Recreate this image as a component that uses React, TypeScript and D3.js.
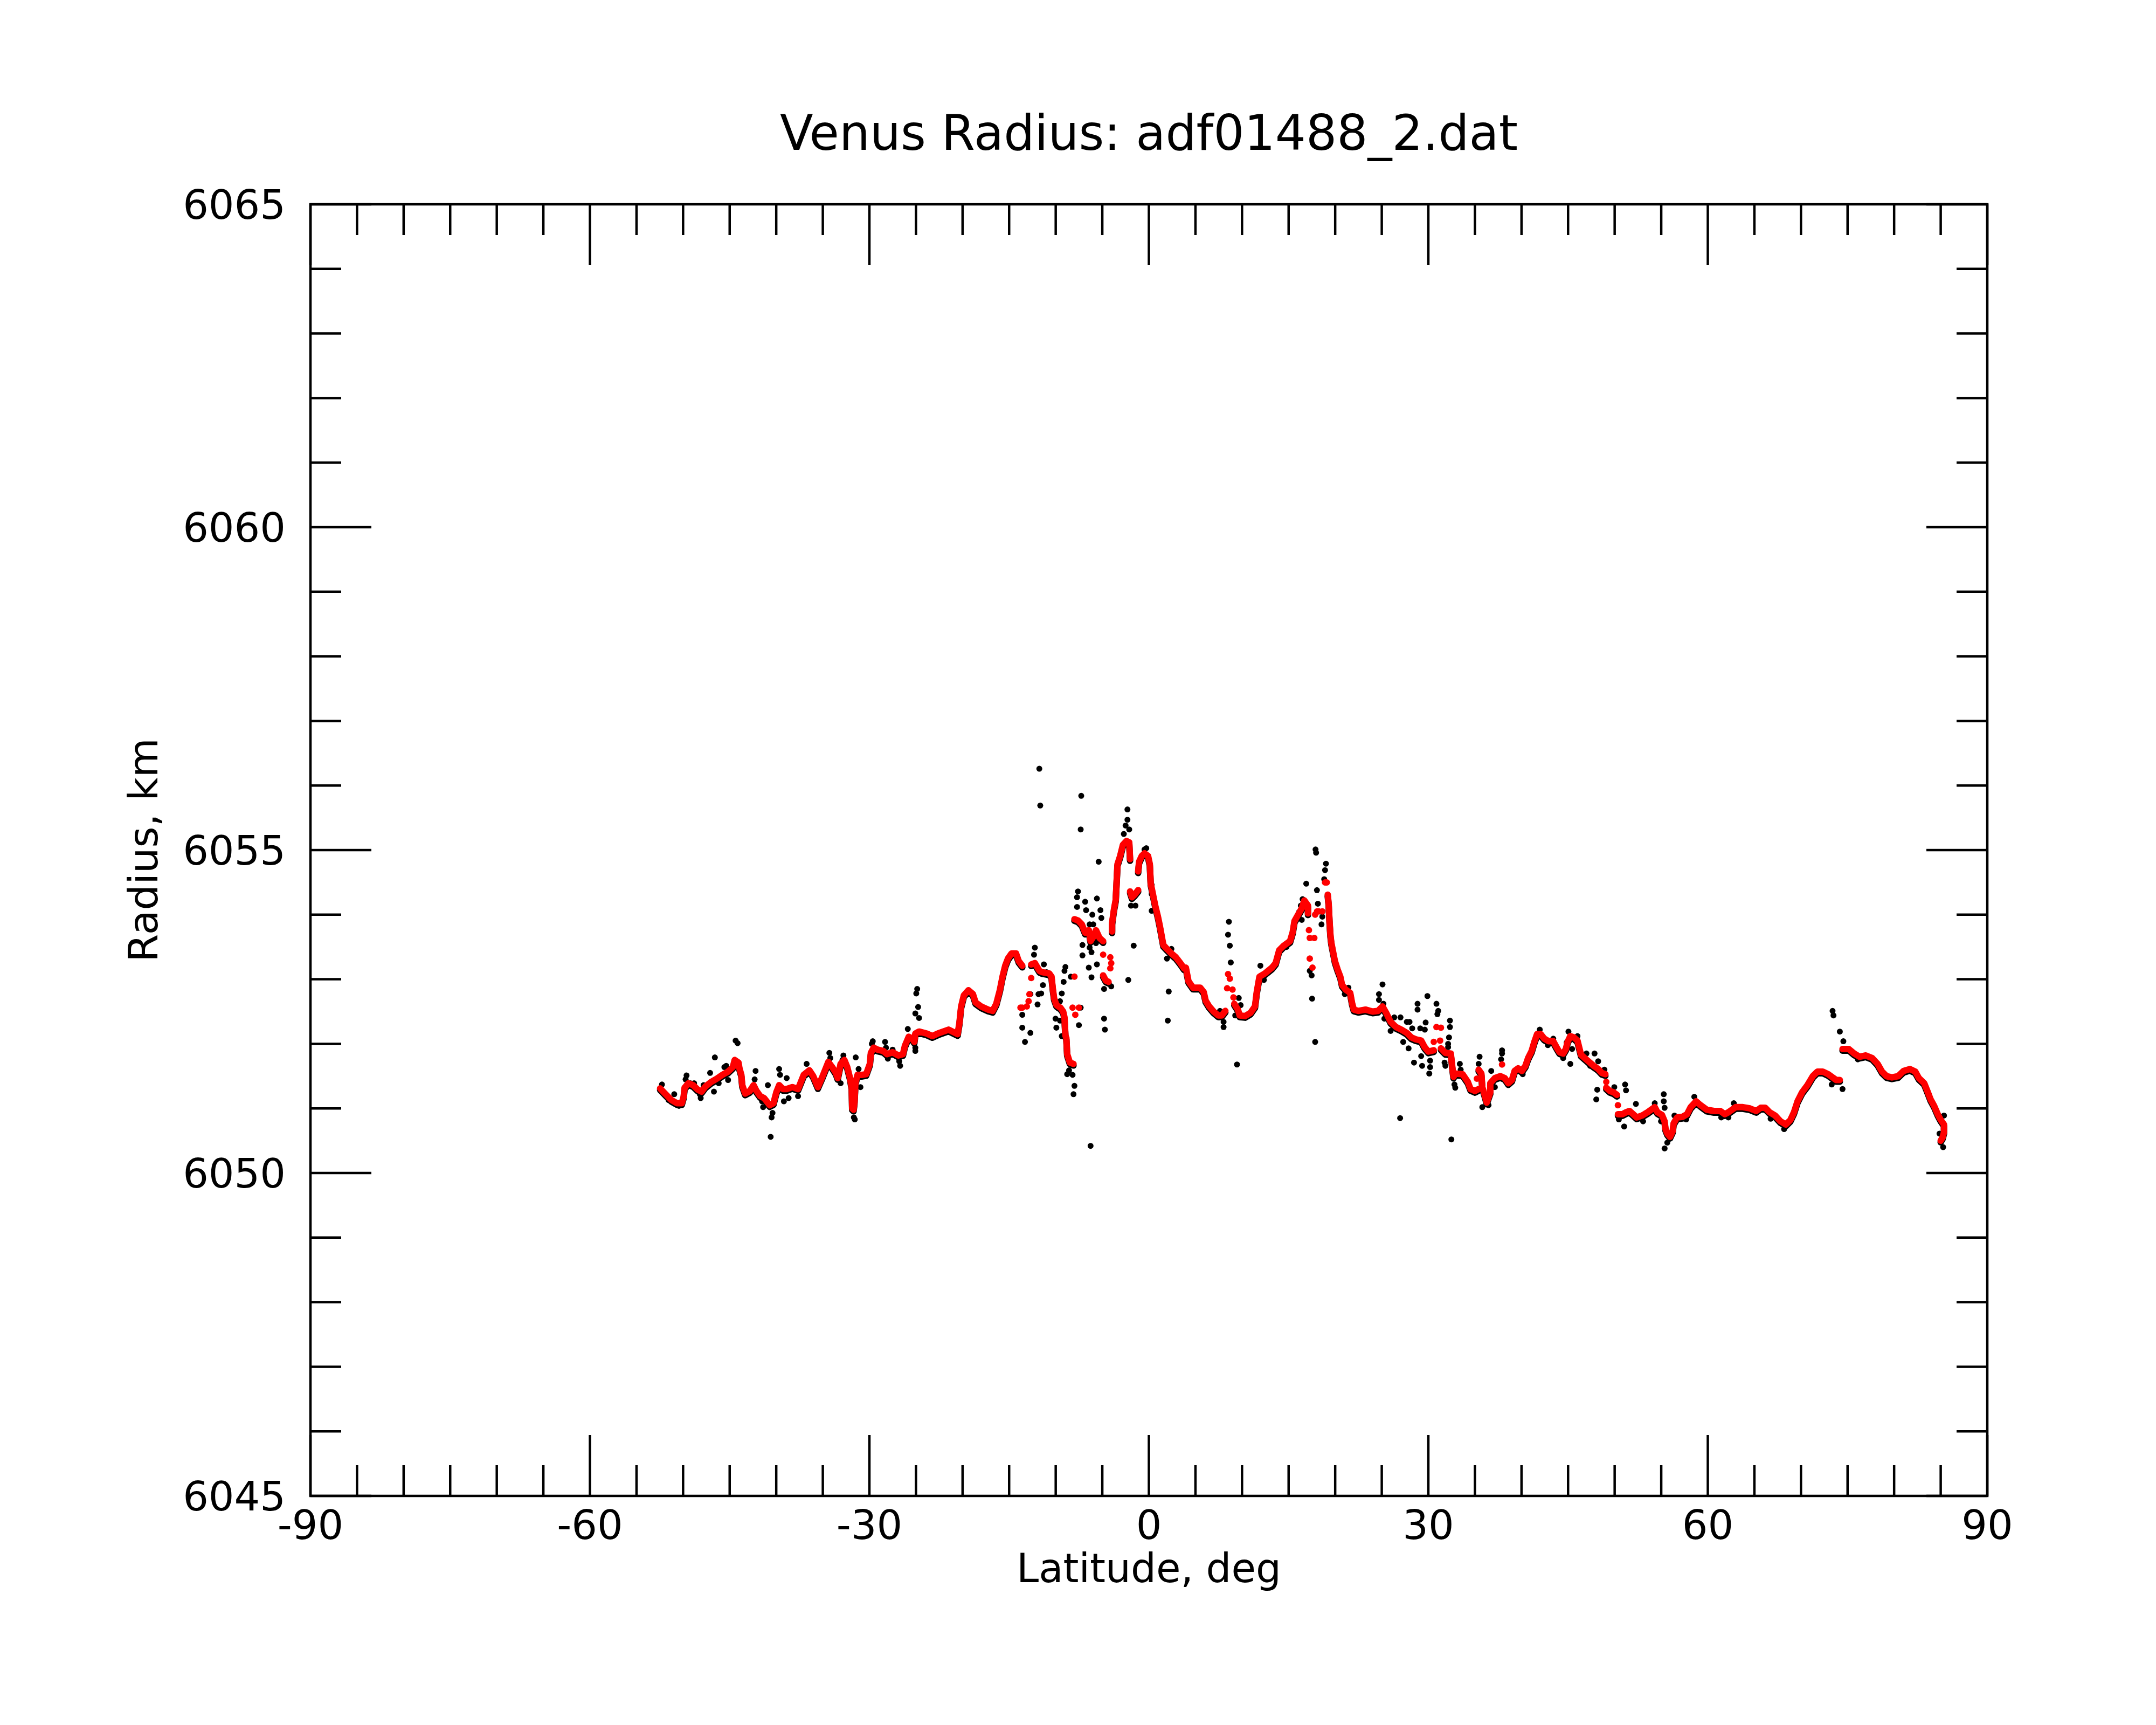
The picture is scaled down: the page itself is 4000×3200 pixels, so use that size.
import { useEffect, useRef } from 'react';
import * as d3 from 'd3';

type Pt = [number, number]; // [latitude deg, radius km]

const TITLE = 'Venus Radius: adf01488_2.dat';
const X_LABEL = 'Latitude, deg';
const Y_LABEL = 'Radius, km';
const xDomain: [number, number] = [-90, 90];
const yDomain: [number, number] = [6045, 6065];
const xMajorTicks = [-90, -60, -30, 0, 30, 60, 90];
const yMajorTicks = [6045, 6050, 6055, 6060, 6065];

// smoothed profile (red) in connected runs
const redSouth: Pt[] = [
  [-52.47, 6051.31], [-51.87, 6051.22], [-51.26, 6051.13], [-50.65, 6051.08], [-50.14, 6051.08],
  [-49.94, 6051.18], [-49.84, 6051.32], [-49.43, 6051.39], [-48.92, 6051.36], [-48.42, 6051.29],
  [-48.01, 6051.26], [-47.6, 6051.34], [-46.99, 6051.41], [-46.39, 6051.46], [-45.78, 6051.52],
  [-45.17, 6051.57], [-44.66, 6051.64], [-44.46, 6051.75], [-44.05, 6051.71], [-43.95, 6051.62],
  [-43.75, 6051.52], [-43.65, 6051.36], [-43.34, 6051.23], [-42.83, 6051.27], [-42.43, 6051.36],
  [-42.12, 6051.27], [-41.72, 6051.19], [-41.31, 6051.16], [-40.7, 6051.05], [-40.3, 6051.08],
  [-39.99, 6051.25], [-39.69, 6051.36], [-39.28, 6051.3], [-38.88, 6051.3], [-38.27, 6051.33],
  [-37.66, 6051.3], [-37.05, 6051.52], [-36.44, 6051.59], [-36.03, 6051.5], [-35.53, 6051.33],
  [-35.02, 6051.5], [-34.41, 6051.72], [-34.0, 6051.64], [-33.6, 6051.55], [-33.4, 6051.47],
  [-33.09, 6051.69], [-32.69, 6051.75], [-32.38, 6051.64], [-32.08, 6051.47], [-31.9, 6051.32],
  [-31.85, 6051.0], [-31.7, 6050.98], [-31.6, 6051.1], [-31.5, 6051.4], [-31.27, 6051.52],
  [-30.76, 6051.52], [-30.35, 6051.53], [-29.95, 6051.69], [-29.84, 6051.86], [-29.54, 6051.94],
  [-29.13, 6051.91], [-28.52, 6051.89], [-28.12, 6051.84], [-27.51, 6051.87], [-26.9, 6051.82],
  [-26.4, 6051.84], [-26.19, 6051.97], [-25.78, 6052.11], [-25.38, 6052.08], [-25.18, 6052.03],
  [-25.07, 6052.16], [-24.67, 6052.19], [-23.86, 6052.16], [-23.25, 6052.12], [-22.64, 6052.16],
  [-22.07, 6052.19], [-21.5, 6052.22], [-20.53, 6052.15], [-20.34, 6052.32], [-20.15, 6052.58],
  [-19.86, 6052.75], [-19.37, 6052.83], [-18.89, 6052.77], [-18.6, 6052.64], [-18.02, 6052.58],
  [-17.25, 6052.53], [-16.77, 6052.51], [-16.38, 6052.62], [-16.0, 6052.83], [-15.71, 6053.04],
  [-15.42, 6053.21], [-15.13, 6053.32], [-14.74, 6053.4], [-14.26, 6053.4], [-13.97, 6053.28],
  [-13.59, 6053.21],
];

const redEquator: Pt[][] = [
  [
    [-12.63, 6053.23], [-12.24, 6053.25], [-11.75, 6053.13], [-11.47, 6053.11], [-11.08, 6053.1],
    [-10.7, 6053.09], [-10.45, 6053.04], [-10.31, 6052.85], [-10.17, 6052.7], [-9.92, 6052.6],
    [-9.73, 6052.58], [-9.5, 6052.56], [-9.2, 6052.5], [-9.06, 6052.41], [-8.96, 6052.13],
    [-8.86, 6052.09], [-8.77, 6051.84], [-8.48, 6051.71], [-8.09, 6051.69],
  ],
  [
    [-7.99, 6053.93], [-7.61, 6053.91], [-7.2, 6053.85], [-6.84, 6053.72], [-6.45, 6053.76],
    [-6.26, 6053.59], [-5.87, 6053.68], [-5.68, 6053.76], [-5.3, 6053.64], [-4.91, 6053.59],
  ],
  [[-4.91, 6053.06], [-4.62, 6052.98], [-4.33, 6052.96]],
  [
    [-3.95, 6053.74], [-3.95, 6053.87], [-3.75, 6054.08], [-3.56, 6054.23], [-3.37, 6054.78],
    [-3.08, 6054.91], [-2.79, 6055.08], [-2.4, 6055.14], [-2.11, 6055.12], [-2.02, 6054.86],
  ],
  [[-2.02, 6054.36], [-1.82, 6054.27], [-1.53, 6054.31], [-1.15, 6054.38]],
  [
    [-1.15, 6054.67], [-1.05, 6054.82], [-0.76, 6054.91], [-0.47, 6054.95], [-0.09, 6054.91],
    [0.1, 6054.78], [0.2, 6054.48], [0.4, 6054.34], [0.68, 6054.14], [0.97, 6053.97],
    [1.17, 6053.83], [1.36, 6053.68], [1.55, 6053.53], [1.94, 6053.47], [2.42, 6053.4],
    [2.9, 6053.34], [3.38, 6053.25], [3.77, 6053.17], [3.97, 6053.18], [4.25, 6052.97],
    [4.74, 6052.87], [5.51, 6052.87], [5.89, 6052.8], [6.09, 6052.67], [6.47, 6052.58],
    [6.95, 6052.5], [7.44, 6052.44], [7.82, 6052.44], [8.21, 6052.51],
  ],
  [
    [9.17, 6052.62], [9.56, 6052.53], [9.75, 6052.44], [10.33, 6052.43], [10.91, 6052.48],
    [11.39, 6052.58], [11.58, 6052.8], [11.87, 6053.04], [12.45, 6053.09], [13.22, 6053.18],
    [13.61, 6053.25], [13.99, 6053.45], [14.48, 6053.52], [15.15, 6053.59], [15.44, 6053.73],
    [15.63, 6053.9], [16.02, 6054.0], [16.41, 6054.1], [16.69, 6054.22], [17.08, 6054.14],
    [17.08, 6054.02],
  ],
];

const redNorth: Pt[][] = [
  [
    [19.2, 6054.31], [19.3, 6054.16], [19.39, 6053.9], [19.49, 6053.68], [19.59, 6053.56],
    [19.78, 6053.42], [19.97, 6053.28], [20.26, 6053.15], [20.55, 6053.04], [20.74, 6052.91],
    [21.13, 6052.84], [21.61, 6052.79], [21.81, 6052.63], [22.0, 6052.53], [22.48, 6052.51],
    [23.25, 6052.53], [24.02, 6052.5], [24.6, 6052.51], [25.08, 6052.58], [25.47, 6052.48],
    [25.95, 6052.34], [26.53, 6052.26], [27.11, 6052.22], [27.69, 6052.17], [28.17, 6052.1],
    [28.65, 6052.07], [29.23, 6052.05], [29.6, 6051.95], [30.0, 6051.88], [30.58, 6051.9],
  ],
  [
    [31.35, 6051.93], [31.83, 6051.86], [32.41, 6051.85], [32.61, 6051.59], [32.7, 6051.49],
    [32.89, 6051.54], [33.67, 6051.53], [34.24, 6051.41], [34.53, 6051.3], [35.02, 6051.27],
    [35.4, 6051.3],
  ],
  [
    [35.4, 6051.6], [35.69, 6051.54], [35.79, 6051.33], [36.08, 6051.19], [36.27, 6051.09],
    [36.65, 6051.25], [36.65, 6051.39], [37.14, 6051.47], [37.72, 6051.5], [38.2, 6051.47],
    [38.58, 6051.39], [38.97, 6051.44], [39.26, 6051.58], [39.64, 6051.62], [40.03, 6051.58],
    [40.42, 6051.66], [40.71, 6051.78], [41.09, 6051.89], [41.38, 6052.03], [41.67, 6052.15],
    [42.06, 6052.15], [42.44, 6052.08], [42.92, 6052.04], [43.41, 6052.04], [43.79, 6051.94],
    [44.08, 6051.87], [44.47, 6051.85], [44.76, 6051.92], [44.95, 6052.03], [45.24, 6052.12],
    [45.62, 6052.1], [46.01, 6052.05], [46.2, 6051.94], [46.39, 6051.83], [46.78, 6051.78],
    [47.26, 6051.72], [47.74, 6051.66], [48.23, 6051.61], [48.61, 6051.55], [49.0, 6051.53],
  ],
  [[49.1, 6051.32], [49.48, 6051.27], [49.87, 6051.25], [50.25, 6051.21]],
  [
    [50.35, 6050.91], [50.83, 6050.91], [51.22, 6050.94], [51.6, 6050.96], [51.99, 6050.91],
    [52.37, 6050.86], [52.95, 6050.89], [53.53, 6050.94], [54.01, 6050.99], [54.3, 6051.02],
    [54.59, 6050.94], [55.07, 6050.9], [55.36, 6050.8], [55.46, 6050.68], [55.65, 6050.61],
    [55.94, 6050.56], [56.23, 6050.65], [56.33, 6050.77], [56.71, 6050.86], [57.29, 6050.87],
    [57.77, 6050.91], [58.16, 6051.02], [58.74, 6051.11], [59.22, 6051.05], [59.89, 6050.98],
    [60.66, 6050.96], [61.34, 6050.96], [61.82, 6050.91], [62.21, 6050.94], [62.98, 6051.02],
    [63.75, 6051.02], [64.52, 6051.0], [65.2, 6050.96], [65.68, 6051.01], [66.16, 6051.01],
    [66.64, 6050.94], [67.22, 6050.89], [67.8, 6050.8], [68.38, 6050.75], [68.86, 6050.82],
    [69.25, 6050.94], [69.63, 6051.11], [70.12, 6051.25], [70.69, 6051.36], [71.27, 6051.5],
    [71.76, 6051.57], [72.33, 6051.57], [72.91, 6051.53], [73.39, 6051.48], [73.78, 6051.44],
    [74.17, 6051.44],
  ],
  [
    [74.46, 6051.92], [75.13, 6051.92], [75.71, 6051.85], [76.29, 6051.8], [76.96, 6051.82],
    [77.64, 6051.78], [78.22, 6051.69], [78.7, 6051.57], [79.18, 6051.5], [79.76, 6051.48],
    [80.43, 6051.5], [81.01, 6051.58], [81.69, 6051.61], [82.27, 6051.57], [82.65, 6051.47],
    [83.23, 6051.39], [83.62, 6051.25], [83.91, 6051.14], [84.29, 6051.04], [84.68, 6050.91],
    [84.97, 6050.83], [85.35, 6050.75], [85.35, 6050.63], [85.2, 6050.55], [85.0, 6050.5],
  ],
];

// red points standing apart from the runs
const redLoose: Pt[] = [
  [-12.63, 6053.02], [-12.82, 6052.77], [-12.91, 6052.66], [-13.1, 6052.58], [-13.59, 6052.56],
  [-13.78, 6052.56], [-7.99, 6053.04], [-8.19, 6052.56], [-7.51, 6052.56], [-7.9, 6052.45],
  [-4.91, 6053.38], [-4.14, 6053.34], [-4.04, 6053.25], [-4.14, 6053.17], [8.5, 6053.08],
  [8.69, 6053.01], [8.4, 6052.86], [8.98, 6052.84], [9.08, 6052.72], [17.18, 6053.76],
  [17.27, 6053.64], [17.76, 6053.64], [17.27, 6053.32], [17.56, 6053.18], [17.85, 6054.0],
  [18.05, 6054.05], [18.24, 6054.05], [18.62, 6054.05], [18.91, 6054.5], [19.1, 6054.5],
  [30.58, 6052.03], [30.87, 6052.26], [31.35, 6052.25], [31.26, 6052.05], [35.21, 6051.46],
  [37.91, 6051.68], [49.1, 6051.41], [50.35, 6051.05],
];

// raw measurements (black) visible around the profile
const rawPoints: Pt[] = [
  [-52.27, 6051.37], [-51.56, 6051.13], [-50.95, 6051.22], [-50.44, 6051.04], [-49.73, 6051.45],
  [-49.63, 6051.51], [-49.23, 6051.39], [-48.82, 6051.39], [-48.21, 6051.22], [-48.11, 6051.16],
  [-47.8, 6051.36], [-47.1, 6051.55], [-46.69, 6051.26], [-46.59, 6051.79], [-46.18, 6051.39],
  [-45.57, 6051.64], [-45.37, 6051.66], [-45.17, 6051.44], [-44.36, 6052.05], [-44.15, 6052.01],
  [-42.32, 6051.45], [-42.22, 6051.58], [-41.52, 6051.11], [-41.41, 6051.02], [-40.9, 6051.36],
  [-40.5, 6050.86], [-40.4, 6050.93], [-40.6, 6050.56], [-39.69, 6051.61], [-39.59, 6051.52],
  [-39.18, 6051.11], [-38.88, 6051.47], [-38.67, 6051.16], [-37.66, 6051.19], [-36.74, 6051.69],
  [-36.44, 6051.58], [-35.53, 6051.3], [-34.3, 6051.86], [-34.2, 6051.78], [-33.09, 6051.39],
  [-32.79, 6051.82], [-32.89, 6051.75], [-31.47, 6051.79], [-31.16, 6051.61], [-30.96, 6051.33],
  [-31.67, 6050.86], [-31.57, 6050.83], [-29.64, 6052.04], [-29.74, 6052.0], [-28.32, 6052.03],
  [-28.22, 6051.94], [-27.51, 6051.91], [-28.02, 6051.77], [-26.7, 6051.66], [-26.8, 6051.73],
  [-25.88, 6052.23], [-25.07, 6051.94], [-25.07, 6051.89], [-24.87, 6052.85], [-24.97, 6052.78],
  [-24.77, 6052.57], [-25.07, 6052.47], [-24.67, 6052.4],
  [-11.76, 6056.26], [-11.66, 6055.69], [-7.26, 6055.84], [-7.32, 6055.32], [-2.3, 6055.63],
  [-2.3, 6055.47], [-2.5, 6055.38], [-2.11, 6055.32], [-2.69, 6055.25], [-5.39, 6054.82],
  [-7.61, 6054.36], [-7.71, 6054.27], [-7.71, 6054.12], [-6.84, 6054.2], [-6.74, 6054.07],
  [-5.58, 6054.25], [-5.2, 6054.07], [-6.07, 6054.0], [-5.1, 6053.95], [-6.36, 6053.85],
  [-5.97, 6053.85], [-7.99, 6053.91], [-7.13, 6053.53], [-6.36, 6053.49], [-6.16, 6053.42],
  [-7.13, 6053.37], [-5.68, 6053.56], [-5.58, 6053.23], [-6.45, 6053.18], [-6.16, 6053.03],
  [-4.81, 6052.85], [-4.04, 6052.89], [-4.81, 6052.39], [-4.72, 6052.22], [-2.21, 6052.99],
  [-1.63, 6053.52], [-1.92, 6054.14], [-1.44, 6054.14], [-1.73, 6054.31], [-0.47, 6055.01],
  [-0.28, 6055.03], [0.3, 6054.46], [0.3, 6054.32], [0.3, 6054.06], [1.94, 6053.32],
  [2.13, 6052.81], [2.03, 6052.36], [2.42, 6053.47], [-6.26, 6050.42], [-12.24, 6053.49],
  [-12.33, 6053.38], [-11.27, 6053.23], [-11.37, 6052.91], [-11.56, 6052.78], [-11.85, 6052.77],
  [-11.95, 6052.61], [-12.72, 6052.77], [-13.59, 6052.45], [-13.59, 6052.25], [-12.72, 6052.17],
  [-13.3, 6052.03], [-8.96, 6053.19], [-9.06, 6053.13], [-9.15, 6052.96], [-9.35, 6052.78],
  [-9.54, 6052.66], [-10.02, 6052.39], [-9.54, 6052.36], [-9.93, 6052.25], [-9.35, 6052.12],
  [-8.57, 6051.59], [-8.77, 6051.53], [-8.19, 6051.52], [-7.99, 6051.35], [-8.09, 6051.22],
  [-7.32, 6052.56], [-7.51, 6052.29], [-8.38, 6053.04], [-13.78, 6053.23], [-10.98, 6053.11],
  [17.89, 6055.01], [17.95, 6054.96], [19.01, 6054.79], [18.91, 6054.69], [18.82, 6054.55],
  [16.89, 6054.48], [18.04, 6054.38], [18.14, 6054.17], [16.5, 6054.24], [16.31, 6054.14],
  [16.12, 6054.04], [16.41, 6053.92], [18.62, 6053.97], [18.53, 6053.85], [8.59, 6053.89],
  [8.5, 6053.69], [8.69, 6053.52], [8.79, 6053.26], [9.65, 6052.71], [9.85, 6052.6],
  [9.27, 6052.44], [7.63, 6052.51], [8.02, 6052.34], [8.02, 6052.26], [9.46, 6051.68],
  [11.97, 6053.21], [12.35, 6052.99], [14.77, 6053.5], [17.47, 6053.06], [17.52, 6052.7],
  [17.85, 6052.03], [17.27, 6053.13], [21.42, 6052.87], [21.03, 6052.77], [25.08, 6052.92],
  [24.7, 6052.77], [24.7, 6052.68], [25.18, 6052.62], [25.28, 6052.39], [26.34, 6052.41],
  [25.95, 6052.2], [27.01, 6052.41], [27.69, 6052.34], [27.98, 6052.34], [27.3, 6052.03],
  [27.88, 6051.93], [28.27, 6052.24], [28.84, 6052.62], [28.84, 6052.53], [29.9, 6052.74],
  [29.71, 6052.33], [29.13, 6052.24], [29.62, 6052.22], [30.87, 6052.62], [31.06, 6052.51],
  [30.97, 6052.46], [32.32, 6052.36], [32.32, 6052.26], [32.22, 6052.1], [32.12, 6052.0],
  [32.12, 6051.95], [28.46, 6051.71], [29.23, 6051.81], [29.33, 6051.66], [30.19, 6051.74],
  [30.19, 6051.64], [30.1, 6051.54], [31.74, 6051.71], [31.83, 6051.66], [32.8, 6051.37],
  [26.97, 6050.85], [32.47, 6050.52],
  [33.38, 6051.69], [33.47, 6051.6], [32.89, 6051.32], [35.5, 6051.8], [35.4, 6051.69],
  [35.79, 6051.02], [36.46, 6051.05], [36.75, 6051.58], [37.14, 6051.33], [37.91, 6051.9],
  [37.91, 6051.85], [37.81, 6051.76], [40.13, 6051.53], [41.96, 6052.22], [42.83, 6051.98],
  [43.41, 6052.08], [44.47, 6051.78], [45.04, 6052.19], [44.85, 6052.02], [45.43, 6051.92],
  [45.24, 6051.69], [46.01, 6052.12], [46.97, 6051.85], [47.84, 6051.85], [48.23, 6051.73],
  [47.36, 6051.66], [48.9, 6051.6], [48.13, 6051.29], [48.03, 6051.14], [49.96, 6051.33],
  [51.12, 6051.37], [51.22, 6051.28], [50.45, 6050.83], [51.02, 6050.72], [52.28, 6051.07],
  [54.3, 6051.08], [55.27, 6051.22], [55.27, 6051.11], [55.36, 6051.01], [54.98, 6050.8],
  [55.65, 6050.47], [55.36, 6050.38], [56.42, 6050.89], [57.68, 6050.83], [58.55, 6051.18],
  [53.05, 6050.8], [61.44, 6050.86],
  [73.39, 6052.51], [73.49, 6052.44], [74.17, 6052.19], [74.55, 6052.04], [73.3, 6051.37],
  [74.46, 6051.3], [68.19, 6050.68], [62.79, 6051.08], [62.21, 6050.86], [66.74, 6050.84],
  [76.1, 6051.76], [82.75, 6051.44], [85.35, 6050.89], [85.26, 6050.4], [84.87, 6050.61],
];

const WIDTH = 4000;
const HEIGHT = 3200;
const margin = { top: 379, right: 313, bottom: 425, left: 576 };
const FONT = 'DejaVu Sans, Verdana, sans-serif';

export default function App() {
  const svgRef = useRef<SVGSVGElement>(null);

  useEffect(() => {
    if (!svgRef.current) return;
    const svg = d3.select(svgRef.current);
    svg.selectAll('*').remove();

    const x0 = margin.left;
    const x1 = WIDTH - margin.right;
    const y0 = margin.top;
    const y1 = HEIGHT - margin.bottom;

    const x = d3.scaleLinear().domain(xDomain).range([x0, x1]);
    const y = d3.scaleLinear().domain(yDomain).range([y1, y0]);

    svg.append('rect').attr('width', WIDTH).attr('height', HEIGHT).attr('fill', '#fff');

    const line = d3
      .line<Pt>()
      .x((d) => x(d[0]))
      .y((d) => y(d[1]));
    const runs = [redSouth, ...redEquator, ...redNorth];

    // raw points sit under the smoothed track, peeking out below it
    svg
      .append('g')
      .attr('transform', 'translate(0, 3)')
      .selectAll('path')
      .data(runs)
      .enter()
      .append('path')
      .attr('d', (d) => line(d))
      .attr('fill', 'none')
      .attr('stroke', '#000')
      .attr('stroke-width', 12)
      .attr('stroke-linecap', 'round')
      .attr('stroke-linejoin', 'round');

    svg
      .append('g')
      .selectAll('circle')
      .data(rawPoints)
      .enter()
      .append('circle')
      .attr('cx', (d) => x(d[0]))
      .attr('cy', (d) => y(d[1]))
      .attr('r', 5.5)
      .attr('fill', '#000');

    svg
      .append('g')
      .selectAll('path')
      .data(runs)
      .enter()
      .append('path')
      .attr('d', (d) => line(d))
      .attr('fill', 'none')
      .attr('stroke', '#ff0000')
      .attr('stroke-width', 12)
      .attr('stroke-linecap', 'round')
      .attr('stroke-linejoin', 'round');

    svg
      .append('g')
      .selectAll('circle')
      .data(redLoose)
      .enter()
      .append('circle')
      .attr('cx', (d) => x(d[0]))
      .attr('cy', (d) => y(d[1]))
      .attr('r', 6)
      .attr('fill', '#ff0000');

    // frame and inward ticks on all four sides
    const axis = svg.append('g').attr('stroke', '#000').attr('stroke-width', 4.5);
    axis
      .append('rect')
      .attr('x', x0)
      .attr('y', y0)
      .attr('width', x1 - x0)
      .attr('height', y1 - y0)
      .attr('fill', 'none');

    const xMinor = d3.range(-90, 90.001, 5).filter((v) => !xMajorTicks.includes(v));
    const yMinor = d3.range(6045, 6065.001, 1).filter((v) => !yMajorTicks.includes(v));
    const MAJOR = 113;
    const MINOR = 57;

    const xTicks = [
      ...xMajorTicks.map((v) => ({ v, len: MAJOR })),
      ...xMinor.map((v) => ({ v, len: MINOR })),
    ];
    const yTicks = [
      ...yMajorTicks.map((v) => ({ v, len: MAJOR })),
      ...yMinor.map((v) => ({ v, len: MINOR })),
    ];

    xTicks.forEach((t) => {
      const px = x(t.v);
      axis.append('line').attr('x1', px).attr('x2', px).attr('y1', y1).attr('y2', y1 - t.len);
      axis.append('line').attr('x1', px).attr('x2', px).attr('y1', y0).attr('y2', y0 + t.len);
    });
    yTicks.forEach((t) => {
      const py = y(t.v);
      axis.append('line').attr('x1', x0).attr('x2', x0 + t.len).attr('y1', py).attr('y2', py);
      axis.append('line').attr('x1', x1).attr('x2', x1 - t.len).attr('y1', py).attr('y2', py);
    });

    const labels = svg
      .append('g')
      .attr('font-family', FONT)
      .attr('fill', '#000');

    labels
      .selectAll('.xl')
      .data(xMajorTicks)
      .enter()
      .append('text')
      .attr('x', (d) => x(d))
      .attr('y', y1 + 80)
      .attr('text-anchor', 'middle')
      .attr('font-size', 75)
      .text((d) => String(d));

    labels
      .selectAll('.yl')
      .data(yMajorTicks)
      .enter()
      .append('text')
      .attr('x', x0 - 46)
      .attr('y', (d) => y(d) + 27)
      .attr('text-anchor', 'end')
      .attr('font-size', 75)
      .text((d) => String(d));

    labels
      .append('text')
      .attr('x', (x0 + x1) / 2)
      .attr('y', 278)
      .attr('text-anchor', 'middle')
      .attr('font-size', 90)
      .text(TITLE);

    labels
      .append('text')
      .attr('x', (x0 + x1) / 2)
      .attr('y', 2935)
      .attr('text-anchor', 'middle')
      .attr('font-size', 74)
      .text(X_LABEL);

    labels
      .append('text')
      .attr('transform', `translate(292, ${(y0 + y1) / 2}) rotate(-90)`)
      .attr('text-anchor', 'middle')
      .attr('font-size', 75)
      .text(Y_LABEL);
  }, []);

  return (
    <svg
      ref={svgRef}
      width={WIDTH}
      height={HEIGHT}
      style={{ position: 'absolute', left: 0, top: 0, display: 'block' }}
    />
  );
}
